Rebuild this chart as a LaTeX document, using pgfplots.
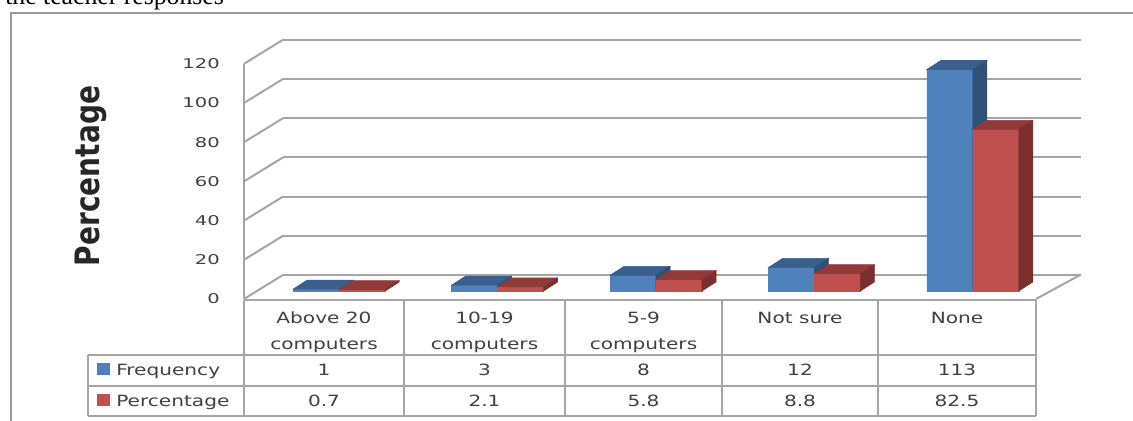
\documentclass[border=0pt]{standalone}
\usepackage{pgfplots}
\pgfplotsset{compat=1.18}
\usepackage{pgfplotstable}
\usepackage{fontspec}
\setmainfont{DejaVu Sans}
\newfontfamily\tickfont[FakeStretch=1.45]{DejaVu Sans}
\newfontfamily\tabfont[FakeStretch=1.3]{DejaVu Sans}
\newfontfamily\titlefont{Liberation Serif}
\definecolor{bfront}{HTML}{4F81BD}
\definecolor{btop}{HTML}{3B5F8C}
\definecolor{bside}{HTML}{2F5077}
\definecolor{rfront}{HTML}{C0504D}
\definecolor{rtop}{HTML}{8E3B39}
\definecolor{rside}{HTML}{7B2F2D}
\definecolor{wall}{HTML}{A6A6A6}
\definecolor{frame}{HTML}{9A9A9A}
\definecolor{txt}{HTML}{404040}

\pgfdeclareplotmark{blank}{}

\pgfplotstableread{
x freq pct
0 1 0.7
1 3 2.1
2 8 5.8
3 12 8.8
4 113 82.5
}\data

\pgfplotsset{
  box faces/.style n args={4}{% left offset (pt), front, top, side colours
    only marks, mark=blank,
    scatter,
    visualization depends on={rawy \as \hval},
    scatter/@pre marker code/.code={%
      \pgfmathsetmacro\hh{\hval*1.47}%
      \pgfmathsetmacro\rx{#1+34.5}%
      \fill[#2] (#1pt,0pt) rectangle ++(34.5pt,-\hh pt);
      \fill[#3] (#1pt,0pt) -- ++(10.5pt,6.75pt) -- ++(34.5pt,0pt) -- ++(-10.5pt,-6.75pt) -- cycle;
      \fill[#4] (\rx pt,0pt) -- ++(10.5pt,6.75pt) -- ++(0pt,-\hh pt) -- ++(-10.5pt,-6.75pt) -- cycle;
    },
    scatter/@post marker code/.code={},
  },
}

\begin{document}
\begin{tikzpicture}[x=0.75pt,y=0.75pt]
\useasboundingbox (0,0) rectangle (1133,421);
\clip (0,0) rectangle (1133,421);

% title fragment and outer frame
\node[anchor=base west, font=\titlefont\fontsize{19.3}{22}\selectfont, inner sep=0pt] at (5,416) {the teacher responses};
\draw[frame, line width=1.5pt] (11,0) -- (11,408) -- (1140,408);

% back wall grid
\begin{axis}[
  at={(212.25pt,109.5pt)}, anchor=south west,
  x=118.8pt, y=1.47pt,
  xmin=-0.5, xmax=4.538, ymin=0, ymax=120,
  axis line style={draw=none},
  major tick length=0pt,
  xtick=\empty, ytick={0,20,...,120},
  yticklabel style={text opacity=0, opacity=0},
  ymajorgrids, grid style={wall, line width=1.5pt},
]
\end{axis}

% front plane: tick labels, left wall, floor
\begin{axis}[
  at={(183pt,91.5pt)}, anchor=south west,
  x=118.8pt, y=1.47pt,
  xmin=-0.5, xmax=4.5, ymin=0, ymax=120,
  axis line style={draw=none},
  major tick length=0pt,
  xtick=\empty,
  ytick={0,20,...,120},
  yticklabels={0,20,40,60,80,100,120},
  yticklabel style={font=\tickfont\fontsize{10.1}{12}\selectfont, text=txt, anchor=east, inner sep=0pt, xshift=-18pt},
  ylabel={Percentage},
  ylabel style={font=\bfseries\fontsize{21}{25}\selectfont, text=black!85, at={(axis description cs:-0.193,0.523)}, anchor=center, yscale=1.2},
  clip=false,
]
\pgfplotsinvokeforeach{0,20,...,120}{\draw[wall, line width=1.5pt] (axis cs:-0.5,#1) -- ++(29.25pt,18pt);}
\draw[wall, line width=1.5pt] (axis cs:-0.5,120) -- (axis cs:-0.5,0);
\draw[wall, line width=1.5pt] (axis cs:4.5,0) -- ++(33pt,18pt);
\end{axis}

% bars
\begin{axis}[
  at={(195pt,97.5pt)}, anchor=south west,
  x=118.8pt, y=1.47pt,
  xmin=-0.5, xmax=4.5, ymin=0, ymax=120,
  hide axis, clip=false, clip marker paths=true,
]
\addplot[ybar, bar width=34.5pt, bar shift=-17.25pt, fill=bfront, draw=none] table[x=x,y=freq]{\data};
\addplot[box faces={-34.5}{bfront}{btop}{bside}] table[x=x,y=freq]{\data};
\addplot[ybar, bar width=34.5pt, bar shift=17.25pt, fill=rfront, draw=none] table[x=x,y=pct]{\data};
\addplot[box faces={0}{rfront}{rtop}{rside}] table[x=x,y=pct]{\data};
\end{axis}

% data table
\begin{scope}[wall, line width=1.5pt]
\draw (244,121) -- (1036,121);
\foreach \xx in {244,404,565,722,878,1036} \draw (\xx,121) -- (\xx,5);
\draw (88,66) -- (1036,66);
\draw (88,35) -- (1036,35);
\draw (88,5) -- (1036,5);
\draw (88,66) -- (88,5);
\end{scope}
\begin{scope}[every node/.style={font=\tabfont\fontsize{11.6}{14}\selectfont, text=txt, inner sep=0pt, anchor=base}]
\node at (324,97) {Above 20};
\node at (324,71) {computers};
\node at (484.5,97) {10-19};
\node at (484.5,71) {computers};
\node at (643.5,97) {5-9};
\node at (643.5,71) {computers};
\node at (800,97) {Not sure};
\node at (957,97) {None};
\node at (324,45) {1};
\node at (484.5,45) {3};
\node at (643.5,45) {8};
\node at (800,45) {12};
\node at (957,45) {113};
\node at (324,14.5) {0.7};
\node at (484.5,14.5) {2.1};
\node at (643.5,14.5) {5.8};
\node at (800,14.5) {8.8};
\node at (957,14.5) {82.5};
\node[anchor=base west] at (116,45) {Frequency};
\node[anchor=base west] at (116,14.5) {Percentage};
\end{scope}
\fill[bfront] (97,46) rectangle (110,58);
\fill[rfront] (97,15) rectangle (110,27);
\end{tikzpicture}
\end{document}
